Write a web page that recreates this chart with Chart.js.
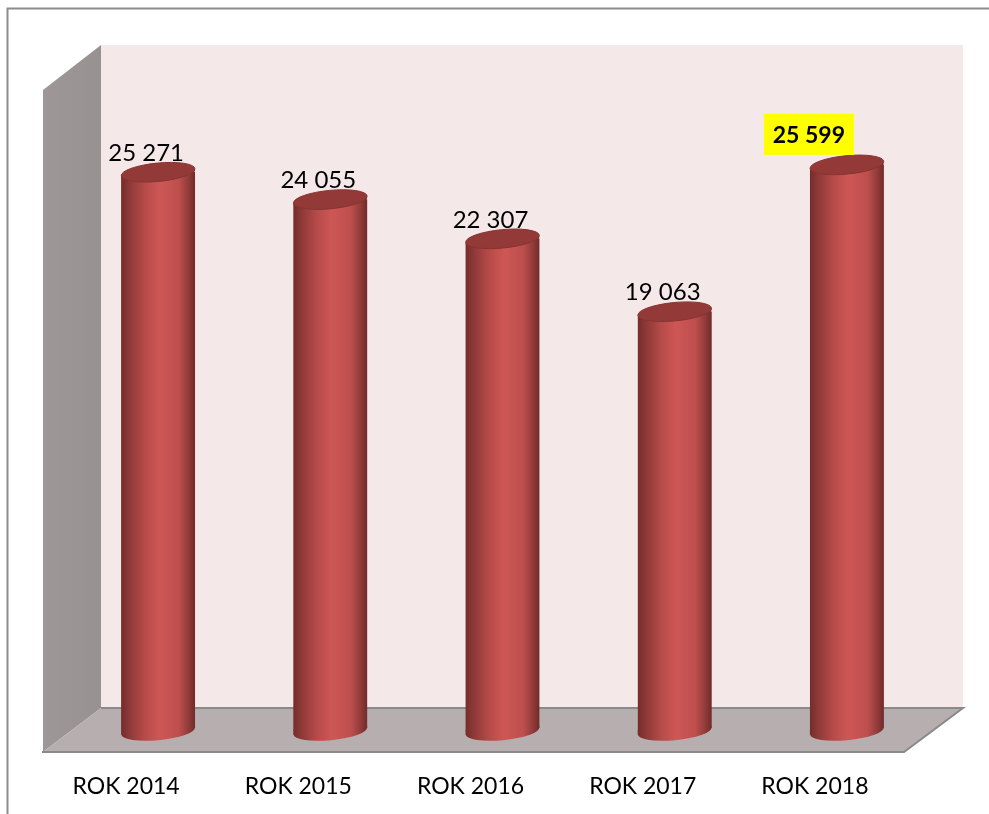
<!DOCTYPE html>
<html>
<head>
<meta charset="utf-8">
<title>ROK 2014 - 2018</title>
<script src="https://cdn.jsdelivr.net/npm/chart.js@4/dist/chart.umd.min.js"></script>
<style>
    html, body { margin: 0; padding: 0; background: #fff; overflow: hidden; }
    canvas { display: block; }
</style>
</head>
<body>
<canvas id="chart" width="989" height="814"></canvas>
<script>
const categories = ['ROK 2014', 'ROK 2015', 'ROK 2016', 'ROK 2017', 'ROK 2018'];
const values = [25271, 24055, 22307, 19063, 25599];
const valueLabels = ['25 271', '24 055', '22 307', '19 063', '25 599'];
const highlightIndex = 4;

const fontFamily = "Lato, 'Noto Sans', sans-serif";
const barWidth = 74;
const capTilt = -5.5 * Math.PI / 180;
const capRadiusY = 9.2;
const capDrop = Math.tan(-capTilt) * barWidth / 2;

function cylinderGradient(ctx, x) {
    const g = ctx.createLinearGradient(x - barWidth / 2, 0, x + barWidth / 2, 0);
    g.addColorStop(0, '#742d2b');
    g.addColorStop(0.12, '#8f3a38');
    g.addColorStop(0.32, '#b64b49');
    g.addColorStop(0.52, '#ce5755');
    g.addColorStop(0.78, '#bd4f4d');
    g.addColorStop(0.92, '#8e3a38');
    g.addColorStop(1, '#702b29');
    return g;
}

function ellipsePath(ctx, x, y) {
    ctx.beginPath();
    ctx.ellipse(x, y, barWidth / 2, capRadiusY, capTilt, 0, Math.PI * 2);
}

function polygon(ctx, pts, fill) {
    ctx.beginPath();
    pts.forEach((p, i) => i ? ctx.lineTo(p[0], p[1]) : ctx.moveTo(p[0], p[1]));
    ctx.closePath();
    ctx.fillStyle = fill;
    ctx.fill();
}

// Frame, back wall, side wall and floor of the 3D box
const boxPlugin = {
    id: 'box',
    beforeDraw(chart) {
        const ctx = chart.ctx;
        ctx.save();
        ctx.fillStyle = '#fff';
        ctx.fillRect(0, 0, chart.width, chart.height);

        ctx.strokeStyle = '#8c8c8c';
        ctx.lineWidth = 2;
        ctx.beginPath();
        ctx.moveTo(7.5, 814);
        ctx.lineTo(7.5, 8.5);
        ctx.lineTo(989, 8.5);
        ctx.stroke();

        polygon(ctx, [[101, 45], [963, 45], [963, 708], [101, 708]], '#f4e8e8');

        const side = ctx.createLinearGradient(43, 0, 101, 0);
        side.addColorStop(0, '#9d9797');
        side.addColorStop(1, '#979191');
        polygon(ctx, [[43, 90], [101, 45], [101, 708], [43, 752]], side);

        polygon(ctx, [[43, 752], [101, 708], [963, 708], [904, 752]], '#b7afaf');

        ctx.strokeStyle = '#8a8a8a';
        ctx.lineWidth = 2;
        ctx.beginPath();
        ctx.moveTo(101, 708);
        ctx.lineTo(963, 708);
        ctx.lineTo(904, 752);
        ctx.lineTo(42, 752);
        ctx.stroke();
        ctx.restore();
    },
    // Bottom cap sits under the bar, the bar itself is clipped to the cylinder outline
    beforeDatasetDraw(chart, args) {
        const ctx = chart.ctx;
        const bars = args.meta.data;
        const floorY = chart.chartArea.bottom;
        bars.forEach(bar => {
            const l = bar.x - barWidth / 2;
            const r = bar.x + barWidth / 2;
            ctx.save();
            const fill = cylinderGradient(ctx, bar.x);
            ctx.fillStyle = fill;
            ellipsePath(ctx, bar.x, floorY);
            ctx.fill();
            // closes the small gap between the bar edge and the cap tip
            polygon(ctx, [[l, floorY - 1], [l, floorY + capDrop], [r, floorY - capDrop], [r, floorY - capDrop - 1]], fill);
            ctx.restore();
        });
        ctx.save();
        ctx.beginPath();
        bars.forEach(bar => {
            const l = bar.x - barWidth / 2;
            const r = bar.x + barWidth / 2;
            ctx.moveTo(l, bar.y + capDrop);
            ctx.lineTo(r, bar.y - capDrop);
            ctx.lineTo(r, floorY - capDrop);
            ctx.lineTo(l, floorY + capDrop);
            ctx.closePath();
        });
        ctx.clip();
    },
    afterDatasetDraw(chart, args) {
        const ctx = chart.ctx;
        ctx.restore();
        args.meta.data.forEach(bar => {
            ctx.save();
            // the bar only starts at its centre line, fill the right hand corner
            ctx.fillStyle = cylinderGradient(ctx, bar.x);
            ellipsePath(ctx, bar.x, bar.y + 1.5);
            ctx.fill();
            ellipsePath(ctx, bar.x, bar.y);
            ctx.fillStyle = '#933a38';
            ctx.fill();
            ctx.strokeStyle = '#863432';
            ctx.lineWidth = 1;
            ctx.stroke();
            ctx.restore();
        });
    },
    // Value labels, the last one bold on a yellow box
    afterDraw(chart) {
        const ctx = chart.ctx;
        const bars = chart.getDatasetMeta(0).data;
        ctx.save();
        ctx.textAlign = 'center';
        ctx.textBaseline = 'middle';
        bars.forEach((bar, i) => {
            if (i === highlightIndex) {
                const cx = bar.x - 38;
                const cy = bar.y - 30;
                ctx.fillStyle = '#ffff00';
                ctx.fillRect(cx - 45, cy - 21, 90, 41);
                ctx.fillStyle = '#000';
                ctx.font = 'bold 23px ' + fontFamily;
                ctx.fillText(valueLabels[i], cx, cy + 1);
            } else {
                ctx.fillStyle = '#000';
                ctx.font = '24px ' + fontFamily;
                ctx.fillText(valueLabels[i], bar.x - 12, bar.y - 19);
            }
        });
        ctx.restore();
    }
};

new Chart(document.getElementById('chart'), {
    type: 'bar',
    data: {
        labels: categories,
        datasets: [{
            data: values,
            barThickness: barWidth,
            borderWidth: 0,
            backgroundColor: (c) => {
                const chart = c.chart;
                if (!chart.chartArea || c.dataIndex === undefined) return '#c0504d';
                return cylinderGradient(chart.ctx, chart.scales.x.getPixelForValue(c.dataIndex));
            }
        }]
    },
    options: {
        responsive: false,
        animation: false,
        layout: { padding: { left: 72, right: 56, top: 66, bottom: 0 } },
        plugins: {
            legend: { display: false },
            title: { display: false },
            tooltip: { enabled: false }
        },
        scales: {
            x: {
                grid: { display: false, drawTicks: false },
                border: { display: false },
                ticks: {
                    color: '#000',
                    padding: 42,
                    labelOffset: -32,
                    maxRotation: 0,
                    font: { size: 23, family: fontFamily }
                },
                afterFit(scale) { scale.height = 83; }
            },
            y: {
                display: false,
                min: 400,
                max: 30000
            }
        }
    },
    plugins: [boxPlugin]
});
</script>
</body>
</html>
